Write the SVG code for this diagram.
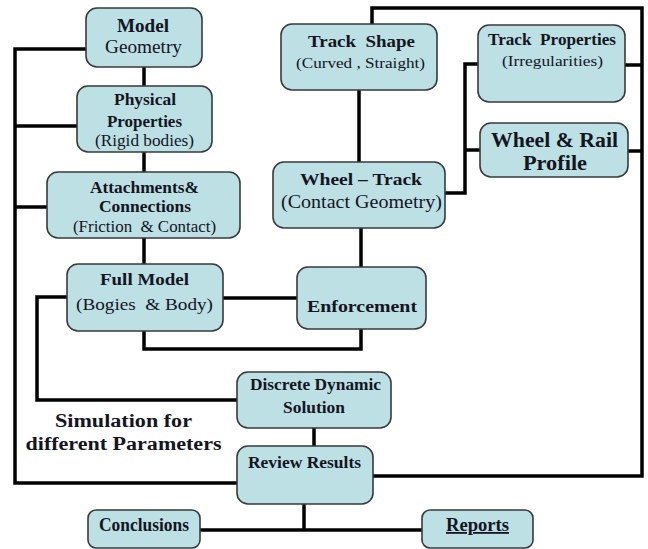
<svg xmlns="http://www.w3.org/2000/svg" width="648" height="549" viewBox="0 0 648 549">
<style>
.box{fill:#bce0e4;stroke:#3a3a3a;stroke-width:1.6}
.ln{fill:none;stroke:#000;stroke-width:3.5;stroke-linejoin:miter}
text{font-family:"Liberation Serif","DejaVu Serif","Times New Roman",serif;fill:#15151f;text-anchor:middle}
.b{font-weight:bold}
</style>
<rect width="648" height="549" fill="#fff"/>
<g id="connectors">
<path class="ln" d="M86 49H15V483H237"/>
<path class="ln" d="M15 126H77"/>
<path class="ln" d="M15 207H47"/>
<path class="ln" d="M144 67V86"/>
<path class="ln" d="M144 152V172"/>
<path class="ln" d="M144 238V264"/>
<path class="ln" d="M372 24V8H642V476H373"/>
<path class="ln" d="M359 90V162"/>
<path class="ln" d="M445 193H465V64H478"/>
<path class="ln" d="M465 150H480"/>
<path class="ln" d="M625 65H642"/>
<path class="ln" d="M628 151H642"/>
<path class="ln" d="M361 228V267"/>
<path class="ln" d="M223 298H297"/>
<path class="ln" d="M144 331V349H361V329"/>
<path class="ln" d="M67 297H37V400H237"/>
<path class="ln" d="M314 428V446"/>
<path class="ln" d="M304 488V530"/>
<path class="ln" d="M200 530H422"/>
</g>
<g id="model-geometry"><rect class="box" x="86" y="8" width="116" height="59" rx="11"/><text class="b" x="143" y="32" font-size="19" textLength="52" lengthAdjust="spacingAndGlyphs">Model</text><text x="143.5" y="53" font-size="19" textLength="77" lengthAdjust="spacingAndGlyphs">Geometry</text></g>
<g id="physical-properties"><rect class="box" x="77" y="86" width="135" height="66" rx="11"/><text class="b" x="145" y="105" font-size="17" textLength="62" lengthAdjust="spacingAndGlyphs">Physical</text><text class="b" x="144.5" y="127" font-size="17" textLength="75" lengthAdjust="spacingAndGlyphs">Properties</text><text x="144.5" y="146" font-size="17" textLength="99" lengthAdjust="spacingAndGlyphs">(Rigid bodies)</text></g>
<g id="attachments"><rect class="box" x="47" y="172" width="193" height="66" rx="11"/><text class="b" x="144.5" y="193" font-size="17" textLength="109" lengthAdjust="spacingAndGlyphs">Attachments&amp;</text><text class="b" x="145" y="212" font-size="17" textLength="92" lengthAdjust="spacingAndGlyphs">Connections</text><text x="144.5" y="232" font-size="16" textLength="143" lengthAdjust="spacingAndGlyphs" xml:space="preserve">(Friction  &amp; Contact)</text></g>
<g id="track-shape"><rect class="box" x="281" y="24" width="156" height="66" rx="11"/><text class="b" x="361.5" y="47" font-size="17" textLength="107" lengthAdjust="spacingAndGlyphs" xml:space="preserve">Track  Shape</text><text x="360.5" y="68" font-size="15" textLength="129" lengthAdjust="spacingAndGlyphs">(Curved , Straight)</text></g>
<g id="track-properties"><rect class="box" x="478" y="25" width="147" height="77" rx="11"/><text class="b" x="552" y="45" font-size="16" textLength="128" lengthAdjust="spacingAndGlyphs" xml:space="preserve">Track  Properties</text><text x="552.5" y="66" font-size="14" textLength="101" lengthAdjust="spacingAndGlyphs">(Irregularities)</text></g>
<g id="wheel-rail-profile"><rect class="box" x="480" y="123" width="148" height="54" rx="11"/><text class="b" x="554.5" y="147" font-size="20" textLength="127" lengthAdjust="spacingAndGlyphs">Wheel &amp; Rail</text><text class="b" x="555" y="170" font-size="20" textLength="64" lengthAdjust="spacingAndGlyphs">Profile</text></g>
<g id="wheel-track"><rect class="box" x="273" y="162" width="172" height="66" rx="11"/><text class="b" x="361" y="185" font-size="17" textLength="122" lengthAdjust="spacingAndGlyphs">Wheel – Track</text><text x="361.5" y="208" font-size="18" textLength="161" lengthAdjust="spacingAndGlyphs">(Contact Geometry)</text></g>
<g id="full-model"><rect class="box" x="67" y="264" width="156" height="67" rx="11"/><text class="b" x="144.5" y="285" font-size="17" textLength="89" lengthAdjust="spacingAndGlyphs">Full Model</text><text x="144.5" y="310" font-size="17" textLength="137" lengthAdjust="spacingAndGlyphs" xml:space="preserve">(Bogies  &amp; Body)</text></g>
<g id="enforcement"><rect class="box" x="297" y="267" width="129" height="62" rx="11"/><text class="b" x="362" y="312" font-size="17" textLength="110" lengthAdjust="spacingAndGlyphs">Enforcement</text></g>
<g id="discrete-dynamic"><rect class="box" x="237" y="372" width="154" height="56" rx="11"/><text class="b" x="315.5" y="390" font-size="16" textLength="131" lengthAdjust="spacingAndGlyphs">Discrete Dynamic</text><text class="b" x="314" y="413" font-size="16" textLength="62" lengthAdjust="spacingAndGlyphs">Solution</text></g>
<g id="simulation-label"><text class="b" x="123.5" y="427" font-size="18" textLength="137" lengthAdjust="spacingAndGlyphs">Simulation for</text><text class="b" x="123.5" y="450" font-size="18" textLength="196" lengthAdjust="spacingAndGlyphs">different Parameters</text></g>
<g id="review-results"><rect class="box" x="237" y="446" width="136" height="58" rx="11"/><text class="b" x="304.5" y="468" font-size="17" textLength="113" lengthAdjust="spacingAndGlyphs">Review Results</text></g>
<g id="conclusions"><rect class="box" x="88" y="510" width="112" height="38" rx="8"/><text class="b" x="144" y="531" font-size="18" textLength="90" lengthAdjust="spacingAndGlyphs">Conclusions</text></g>
<g id="reports"><rect class="box" x="422" y="510" width="111" height="38" rx="8"/><text class="b" x="477.5" y="531" font-size="18" textLength="63" lengthAdjust="spacingAndGlyphs" text-decoration="underline">Reports</text></g>
</svg>
